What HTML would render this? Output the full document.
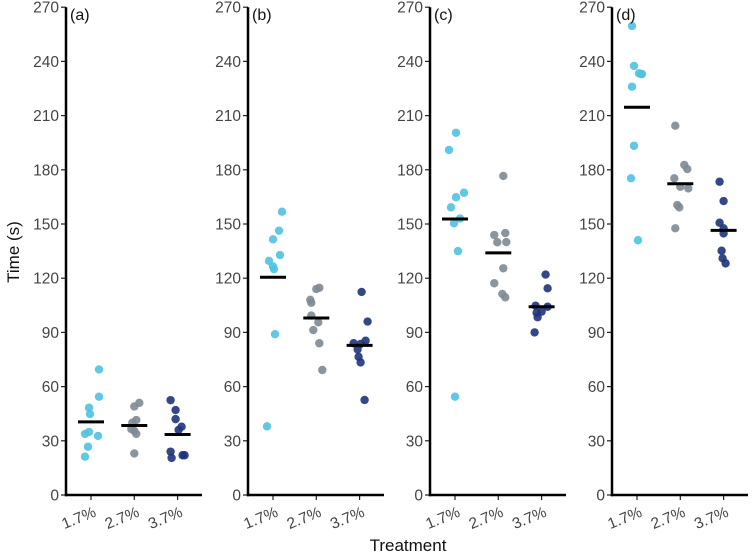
<!DOCTYPE html>
<html><head><meta charset="utf-8"><style>
html,body{margin:0;padding:0;background:#fff;}
svg{display:block;font-family:"Liberation Sans",sans-serif;}
</style></head><body>
<svg id="chart" width="752" height="557" viewBox="0 0 752 557" xmlns="http://www.w3.org/2000/svg">
<text x="0" y="0" transform="translate(19,252) rotate(-90)" text-anchor="middle" font-size="17" fill="#111">Time (s)</text>
<text x="408" y="551" text-anchor="middle" font-size="17" fill="#111">Treatment</text>
</svg>
<script>
const panelLabels = ["(a)","(b)","(c)","(d)"];
const categories = ["1.7%","2.7%","3.7%"];
const yTicks = [0,30,60,90,120,150,180,210,240,270];
// points: [value, jitter px]
const panelA = [
 [[69.5,8],[54.4,8],[48.3,-2],[44.8,-1],[34.9,-2],[33.8,-6],[32.7,7],[26.7,-3],[21.2,-6]],
 [[51,5],[49,0],[41.5,2],[40,-2],[36.5,-3],[35.5,0],[33.8,2],[23,0]],
 [[52.5,-7],[47,-2],[42,-2],[37.8,4],[36,1],[24,-7],[22,5],[22,7],[20.5,-6]]];
const panelB = [
 [[156.8,9],[146.3,6],[141.5,0],[132.8,7],[129.6,-4],[126.5,0],[125,1],[89,2],[38,-6]],
 [[114.7,3],[114,0],[108,-6],[106.4,-5],[99.3,-5],[95.6,2],[91.3,-3],[84,3],[69.2,6]],
 [[112.4,2],[96,8],[85.4,6],[84,-6],[83.6,1],[80.6,-2],[76.5,-1],[73.4,1],[52.6,5]]];
const panelC = [
 [[200.5,1],[191,-6],[167.3,9],[164.8,1],[159.2,-4],[153,5],[150.4,-1],[135,3],[54.4,0]],
 [[176.6,5],[143.9,-4],[145,7],[139.9,-1],[140,8],[125.5,5],[117.2,-4],[111.3,4],[109.4,7]],
 [[122,4],[114.4,6],[104.8,-6],[104.2,6],[101.5,0],[100.9,-5],[98.4,-4],[90,-7]]];
const panelD = [
 [[259.6,-5],[237.5,-3],[233.4,2],[233,5],[233,4],[226,-5],[193.3,-3],[175.3,-6],[141,1]],
 [[204.4,-5],[182.7,4],[180.4,7],[175.3,-6],[170.6,0],[169.7,8],[160.5,-3],[159.2,-1],[147.6,-5]],
 [[173.4,-4],[162.7,0],[150.7,-4],[147.6,0],[144.8,0],[135.2,-2],[131,-1],[128.2,2]]];
const means = [[40.5,38.5,33.5],[120.5,98,82.8],[152.8,134,104.2],[214.6,172.3,146.5]];
const panels=[panelA,panelB,panelC,panelD];
const colors=["#4fc2e2","#7d8a94","#1e337a"];
const NS="http://www.w3.org/2000/svg";
const svg=document.getElementById('chart');
const y0=495, pxPer=487.8/270;
function yS(v){return y0-v*pxPer;}
function mk(t,a,p){const e=document.createElementNS(NS,t);for(const k in a)e.setAttribute(k,a[k]);(p||svg).appendChild(e);return e;}
panels.forEach((pd,pi)=>{
  const ax=66+pi*182;
  function xS(c){return ax+25+c*43.3;}
  const g=mk('g',{});
  
  
  yTicks.forEach(t=>{
    const l=mk('line',{x1:ax-5,x2:ax,y1:yS(t),y2:yS(t),stroke:'#222','stroke-width':1.2},g);
    
    
    const tx=mk('text',{x:ax-7,y:yS(t)+5.5,'text-anchor':'end','font-size':15.5,fill:'#444'},g);
    
    
    tx.textContent=t;
  });
  categories.forEach((c,ci)=>{
    const x=xS(ci);
    const l=mk('line',{x1:x,x2:x,y1:y0,y2:y0+5,stroke:'#222','stroke-width':1.2},g);
    
    
    const tx=mk('text',{x:0,y:0,transform:`translate(${x+6},${y0+21}) rotate(-22)`,'text-anchor':'end','font-size':15.5,fill:'#444'},g);
    
    
    tx.textContent=c;
    pd[ci].forEach(p=>{
      const d=mk('circle',{cx:x+p[1],cy:yS(p[0]),r:4.2,fill:colors[ci],'fill-opacity':0.9},g);
      
      
    });
    const m=mk('line',{x1:x-13,x2:x+13,y1:yS(means[pi][ci]),y2:yS(means[pi][ci]),stroke:'#000','stroke-width':3},g);
    
    
  });
  const ya=mk('line',{x1:ax,x2:ax,y1:yS(270),y2:y0+1.2,stroke:'#000','stroke-width':2.5},g);
  
  
  const xa=mk('line',{x1:ax-1.2,x2:ax+136,y1:y0,y2:y0,stroke:'#000','stroke-width':2.5},g);
  
  
  const pl=mk('text',{x:ax+4,y:20,'font-size':16,fill:'#111'},g);
  
  
  pl.textContent=panelLabels[pi];
});
</script>
</body></html>
